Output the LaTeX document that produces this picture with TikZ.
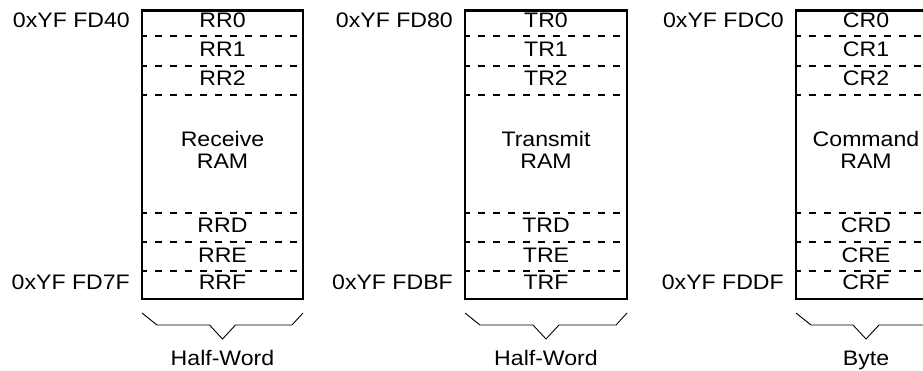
\documentclass[tikz,border=0pt]{standalone}
\usepackage{fontspec}
\setmainfont[FakeStretch=1.1]{Liberation Sans}
\newcommand\memblock[9]{%
  \pgfmathsetmacro{\cx}{(#2+#3)/2}%
  \foreach \yy in {36,66,95,213,242,271}{\draw[rowsep] (#2,\yy) -- (#3,\yy);}
  \node[box, minimum width=#3-#2, minimum height=288.5] (#1box) at (\cx,154.75) {};
  \node[lbl] (#1r0) at (\cx,28) {#40};
  \node[lbl] (#1r1) at (\cx,57) {#41};
  \node[lbl] (#1r2) at (\cx,86) {#42};
  \node[lbl] (#1m1) at (\cx,147) {#5};
  \node[lbl] (#1m2) at (\cx,169) {#6};
  \node[lbl] (#1rd) at (\cx,233) {#4D};
  \node[lbl] (#1re) at (\cx,262) {#4E};
  \node[lbl] (#1rf) at (\cx,290) {#4F};
  \node[addr] (#1at) at (#2-12,28) {#7};
  \node[addr] (#1ab) at (#2-12,290) {#8};
  \coordinate (#1b1) at (#2,313);
  \coordinate (#1b2) at (#2+15,325);
  \coordinate (#1b3) at (\cx-13,325);
  \coordinate (#1b4) at (\cx,339);
  \coordinate (#1b5) at (\cx+13,325);
  \coordinate (#1b6) at (#3-11,325);
  \coordinate (#1b7) at (#3,313);
  \draw[brace] (#1b1) -- (#1b2) -- (#1b3) -- (#1b4) -- (#1b5) -- (#1b6) -- (#1b7);
  \node[lbl] (#1w) at (\cx,365) {#9};
}
\begin{document}
\begin{tikzpicture}[x=1pt,y=-1pt,
  box/.style={draw, line width=2.4pt, inner sep=0pt, outer sep=0pt},
  rowsep/.style={line width=1.3pt, dash pattern=on 6.5pt off 8.5pt, dash phase=2pt},
  brace/.style={line width=0.9pt, line join=miter},
  lbl/.style={font=\fontsize{21}{23}\selectfont, inner sep=0pt, anchor=base},
  addr/.style={lbl, anchor=base east}]
\useasboundingbox (0,0) rectangle (923,371);
\clip (0,0) rectangle (923,371);
\memblock{a}{142}{303}{RR}{Receive}{RAM}{0xYF FD40}{0xYF FD7F}{Half-Word}
\memblock{b}{465}{627}{TR}{Transmit}{RAM}{0xYF FD80}{0xYF FDBF}{Half-Word}
\memblock{c}{796}{936}{CR}{Command}{RAM}{0xYF FDC0}{0xYF FDDF}{Byte}
\end{tikzpicture}
\end{document}
